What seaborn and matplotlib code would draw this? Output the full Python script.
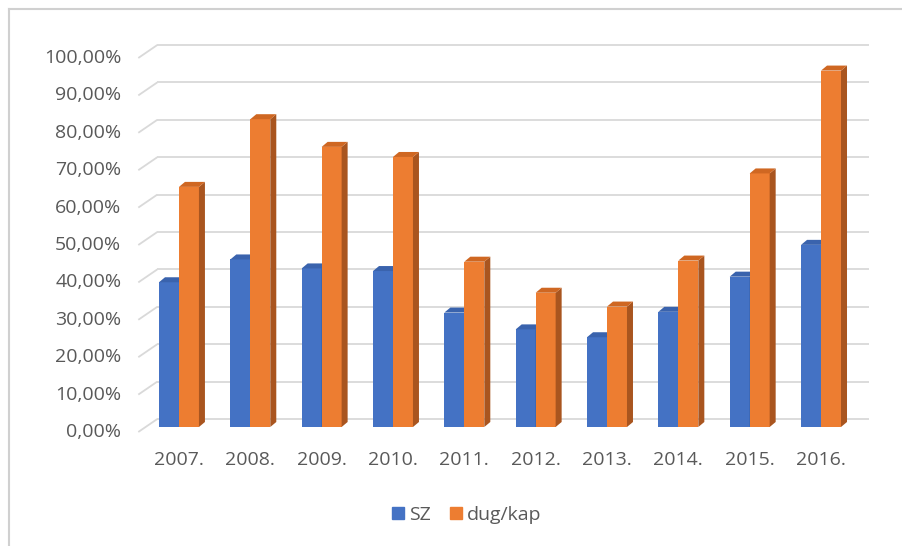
import matplotlib
matplotlib.use("Agg")
import matplotlib.pyplot as plt
import seaborn as sns
import pandas as pd
from matplotlib.patches import Polygon
from matplotlib.lines import Line2D

# ---- data ----
years = ["2007.", "2008.", "2009.", "2010.", "2011.", "2012.", "2013.", "2014.", "2015.", "2016."]
sz = [0.387, 0.448, 0.424, 0.417, 0.306, 0.261, 0.240, 0.308, 0.402, 0.487]
dugkap = [0.642, 0.823, 0.749, 0.722, 0.442, 0.359, 0.322, 0.445, 0.678, 0.953]
series = ["SZ", "dug/kap"]
yticks = [0.0, 0.1, 0.2, 0.3, 0.4, 0.5, 0.6, 0.7, 0.8, 0.9, 1.0]

front_colors = ["#4472C4", "#ED7D31"]
side_colors = ["#2F5597", "#A9551F"]
top_colors = ["#3A63AD", "#CF6722"]
text_color = "#595959"
grid_color = "#D9D9D9"

plt.rcParams['font.family'] = ['Open Sans', 'DejaVu Sans']
FS = 14

df = pd.DataFrame({
    "year": years * 2,
    "value": sz + dugkap,
    "series": [series[0]] * len(years) + [series[1]] * len(years),
})

W, H = 902, 546
fig = plt.figure(figsize=(W / 100, H / 100), dpi=100)
ax = fig.add_axes([143.3 / W, 119 / H, 713.4 / W, 374 / H])

sns.barplot(data=df, x="year", y="value", hue="series", hue_order=series,
            palette=dict(zip(series, front_colors)), width=0.56, saturation=1,
            linewidth=0, errorbar=None, legend=False, ax=ax)
ax.set_xlim(-0.5, len(years) - 0.5)
ax.set_ylim(0, 1)

# pixel -> data conversion
p0 = ax.transData.transform((0, 0))
p1 = ax.transData.transform((1, 1))
sx = p1[0] - p0[0]
sy = p1[1] - p0[1]

# 3D faces for bars
ddx, ddy = 6 / sx, 5 / sy
for i, cont in enumerate(ax.containers):
    z = 2 + i
    for bar in cont:
        bar.set_zorder(z)
        x, w, h = bar.get_x(), bar.get_width(), bar.get_height()
        side = Polygon([(x + w, 0), (x + w + ddx, ddy), (x + w + ddx, h + ddy), (x + w, h)],
                       closed=True, facecolor=side_colors[i], edgecolor="none",
                       zorder=z, clip_on=False)
        top = Polygon([(x, h), (x + ddx, h + ddy), (x + w + ddx, h + ddy), (x + w, h)],
                      closed=True, facecolor=top_colors[i], edgecolor="none",
                      zorder=z, clip_on=False)
        ax.add_patch(side)
        ax.add_patch(top)

# back wall gridlines with perspective stubs
xl, xr = -0.5, len(years) - 0.5
for v in yticks:
    ax.plot([xl - 5 / sx, xl + 14 / sx], [v - 5 / sy, v + 8 / sy], color=grid_color,
            lw=1.3, zorder=0.5, clip_on=False, solid_capstyle="butt")
    ax.plot([xl + 14 / sx, xr + 12 / sx], [v + 8 / sy, v + 8 / sy], color=grid_color,
            lw=1.3, zorder=0.5, clip_on=False, solid_capstyle="butt")
    ax.text(xl - 22 / sx, v - 5 / sy, f"{v * 100:.2f}%".replace(".", ","),
            ha="right", va="center", fontsize=FS, color=text_color)

ax.set_yticks([])
ax.set_xlabel("")
ax.set_ylabel("")
ax.tick_params(axis="x", length=0, pad=17, labelsize=FS, labelcolor=text_color)
for s in ax.spines.values():
    s.set_visible(False)
ax.patch.set_visible(False)

handles = [Line2D([], [], marker="s", linestyle="", markersize=8, color=c) for c in front_colors]
fig.legend(handles, series, loc="center", bbox_to_anchor=(466 / W, 31 / H), ncol=2,
           frameon=False, handletextpad=0.15, columnspacing=0.9, handlelength=0.8,
           fontsize=FS, labelcolor=text_color)

# outer chart frame (left and top edges visible)
fig.add_artist(Line2D([9 / W, 9 / W], [0, 1 - 9 / H], transform=fig.transFigure,
                      color="#D0D0D0", lw=1.5))
fig.add_artist(Line2D([9 / W, 1], [1 - 9 / H, 1 - 9 / H], transform=fig.transFigure,
                      color="#D0D0D0", lw=1.5))

fig.savefig("out.png", dpi=100)
